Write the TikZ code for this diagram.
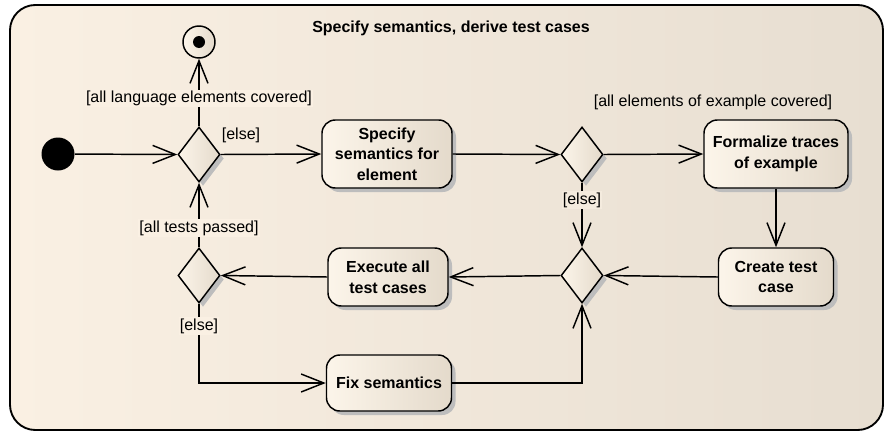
\documentclass[tikz,border=0pt]{standalone}
\usepackage{fontspec}
\setmainfont{Liberation Sans}
\usetikzlibrary{arrows.meta,shapes.geometric,shadows}
\definecolor{bgL}{HTML}{FAF0E3}
\definecolor{bgR}{HTML}{E7DED1}
\definecolor{ndL}{HTML}{FCF5EA}
\definecolor{ndR}{HTML}{E4DACB}
\definecolor{shd}{HTML}{BDBDBD}
\tikzset{
  nodeshadow/.style={drop shadow={shadow xshift=3pt,shadow yshift=-3pt,fill=shd,opacity=1}},
  action/.style={draw=black,line width=1.1pt,rounded corners=10pt,left color=ndL,right color=ndR,
    nodeshadow,align=center,inner sep=2pt,font=\fontsize{12}{15.5}\selectfont\bfseries},
  decision/.style={draw=black,line width=1.1pt,shape=diamond,inner sep=0pt,
    minimum width=31.5pt,minimum height=41.25pt,left color=ndL,right color=ndR,nodeshadow},
  flow/.style={draw=black,line width=1.1pt,-{Straight Barb[length=17pt,width=13.5pt,line width=1.1pt]}},
  guard/.style={font=\fontsize{12}{14}\selectfont,inner sep=1pt},
  guardcut/.style={guard,fill=bgL}
}
\begin{document}
\begin{tikzpicture}[x=0.75pt,y=-0.75pt]
\useasboundingbox (0,0) rectangle (885,432);
% activity frame
\path[draw=black,line width=1.4pt,rounded corners=19pt,left color=bgL,right color=bgR]
  (10,5) rectangle (883,430);
\node[font=\fontsize{12}{14}\selectfont\bfseries] (title) at (451,28) {Specify semantics, derive test cases};

% start and end
\node[circle,fill=black,minimum size=24.75pt,inner sep=0pt] (start) at (58,154) {};
\node[circle,draw=black,line width=1.1pt,left color=ndL,right color=ndR,minimum size=24pt,inner sep=0pt] (final) at (199,42) {};
\node[circle,fill=black,minimum size=9pt,inner sep=0pt] (finaldot) at (199,42) {};

% decisions and merges
\node[decision] (d1) at (199,154.5) {};
\node[decision] (d2) at (582,154.5) {};
\node[decision] (m1) at (582,275.5) {};
\node[decision] (d4) at (199,275.5) {};

% actions
\node[action,minimum width=97.5pt,minimum height=51pt] (spec) at (387,154) {Specify\\semantics for\\element};
\node[action,minimum width=108pt,minimum height=51pt] (form) at (776,154) {Formalize traces\\of example};
\node[action,minimum width=86.25pt,minimum height=43.5pt] (create) at (776,277) {Create test\\case};
\node[action,minimum width=90pt,minimum height=43.5pt] (exec) at (388,277) {Execute all\\test cases};
\node[action,minimum width=93.75pt,minimum height=42pt] (fix) at (389,383) {Fix semantics};

% control flows
\draw[flow] (start) -- (d1.west);
\draw[flow] (d1.north) -- node[guardcut,pos=0.41] {[all language elements covered]} (final.south);
\draw[flow] (d1.east) -- (spec.west);
\node[guard] (elseA) at (241,135) {[else]};
\draw[flow] (spec.east) -- (d2.west);
\draw[flow] (d2.east) -- (form.west);
\node[guard] (covA) at (713,102) {[all elements of example covered]};
\draw[flow] (d2.south) -- node[guardcut,fill=bgL!70!bgR,pos=0.27] {[else]} (m1.north);
\draw[flow] (form.south) -- (create.north);
\draw[flow] (create.west) -- (m1.east);
\draw[flow] (m1.west) -- (exec.east);
\draw[flow] (exec.west) -- (d4.east);
\draw[flow] (d4.north) -- node[guardcut,pos=0.3] {[all tests passed]} (d1.south);
\draw[flow] (d4.south) -- node[guardcut,pos=0.28] {[else]} (d4.south |- fix.west) -- (fix.west);
\draw[flow] (fix.east) -- (m1.south |- fix.east) -- (m1.south);
\end{tikzpicture}
\end{document}
